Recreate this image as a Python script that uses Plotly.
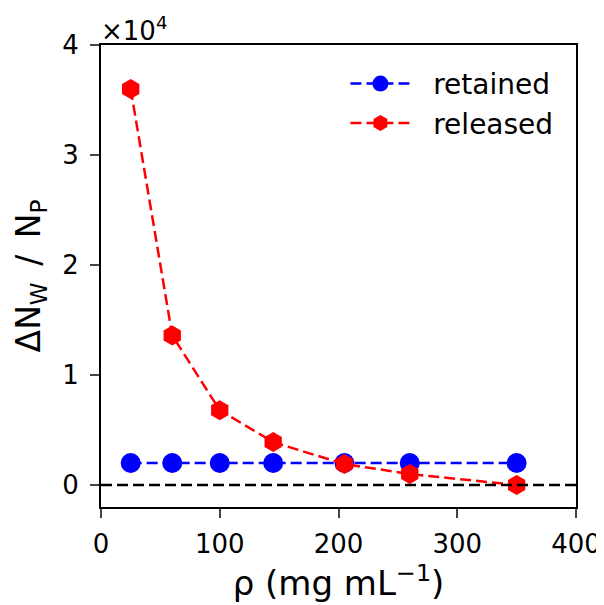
import plotly.graph_objects as go

rho = [25, 60, 100, 145, 205, 260, 350]
retained = [2000, 2000, 2000, 2000, 2000, 2000, 2000]
released = [36000, 13600, 6800, 3900, 1900, 1000, 0]
yticks = [0, 10000, 20000, 30000, 40000]
yticklabels = ["0", "1", "2", "3", "4"]
xticks = [0, 100, 200, 300, 400]

font = "DejaVu Sans"
dash = "11px,5px"
fig = go.Figure()
fig.add_trace(go.Scatter(x=rho, y=retained, name="\u00a0\u00a0retained", mode="lines+markers",
                         line=dict(color="blue", dash=dash, width=2.5),
                         marker=dict(symbol="circle", size=20, color="blue")))
fig.add_trace(go.Scatter(x=rho, y=released, name="\u00a0\u00a0released", mode="lines+markers",
                         line=dict(color="red", dash=dash, width=2.5),
                         marker=dict(symbol="hexagon", size=20, color="red")))
fig.add_shape(type="line", xref="paper", x0=0, x1=1, yref="y", y0=0, y1=0,
              line=dict(color="black", dash=dash, width=2.5))
fig.add_annotation(text="×10<sup>4</sup>", xref="paper", yref="paper", x=0, y=1,
                   xanchor="left", yanchor="bottom", showarrow=False,
                   font=dict(family=font, size=26, color="black"), yshift=-3, xshift=-2)
fig.update_layout(
    width=604, height=605,
    margin=dict(l=93, r=36, t=37, b=106),
    plot_bgcolor="white", paper_bgcolor="white",
    font=dict(family=font, color="black"),
    showlegend=True,
    legend=dict(x=0.963, y=0.97, xanchor="right", yanchor="top",
                font=dict(family=font, size=28), bgcolor="rgba(0,0,0,0)",
                itemwidth=60),
    xaxis=dict(range=[0, 400], tickvals=xticks, ticks="outside", ticklen=9, tickwidth=2,
               ticklabelstandoff=4,
               showline=True, linecolor="black", linewidth=2, mirror=True,
               showgrid=False, zeroline=False, tickfont=dict(size=26),
               title=dict(text="ρ (mg mL<sup>−1</sup>)", font=dict(size=34), standoff=9)),
    yaxis=dict(range=[-2000, 40000], tickvals=yticks, ticktext=yticklabels, ticks="outside",
               ticklen=9, tickwidth=2, ticklabelstandoff=6,
               showline=True, linecolor="black", linewidth=2, mirror=True,
               showgrid=False, zeroline=False, tickfont=dict(size=26),
               title=dict(text="ΔN<sub>W</sub>\u2002/\u2002N<sub>P</sub>", font=dict(size=33), standoff=12)),
)
fig.write_html("out.html")
